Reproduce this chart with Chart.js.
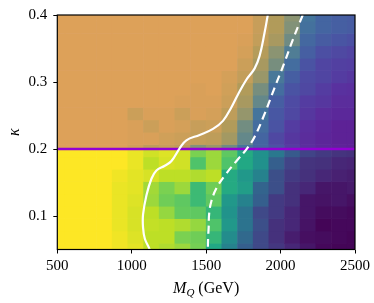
<!DOCTYPE html>
<html>
<head>
<meta charset="utf-8">
<script src="https://cdn.jsdelivr.net/npm/chart.js@4.4.1/dist/chart.umd.min.js"></script>
<style>
  html, body { margin: 0; padding: 0; background: #fff; }
  #wrap { width: 374px; height: 303px; }
</style>
</head>
<body>
<div id="wrap"><canvas id="chart" width="374" height="303"></canvas></div>
<script>
// grid centres (20 x 20 scan)
const massGeV = [500, 605.3, 710.5, 815.8, 921.1, 1026.3, 1131.6, 1236.8, 1342.1, 1447.4,
                 1552.6, 1657.9, 1763.2, 1868.4, 1973.7, 2078.9, 2184.2, 2289.5, 2394.7, 2500];
const kappaVals = [0.05, 0.0684, 0.0868, 0.1053, 0.1237, 0.1421, 0.1605, 0.1789, 0.1974, 0.2158,
                   0.2342, 0.2526, 0.2711, 0.2895, 0.3079, 0.3263, 0.3447, 0.3632, 0.3816, 0.4];

// colour value per cell, rows from kappa = 0.05 upwards (0 = dark, 1 = yellow)
const zRows = [
  [1,1,1,1,0.98,0.96,0.90,0.88,0.85,0.79,0.60,0.44,0.30,0.22,0.16,0.11,0.06,0.02,0.01,0.01],
  [1,1,1,1,0.98,0.95,0.90,0.90,0.80,0.78,0.66,0.48,0.34,0.22,0.14,0.08,0.04,0.03,0.02,0.01],
  [1,1,1,1,0.97,0.94,0.91,0.90,0.88,0.84,0.72,0.53,0.38,0.24,0.14,0.11,0.05,0.01,0.02,0.02],
  [1,1,1,1,0.97,0.94,0.90,0.84,0.76,0.75,0.66,0.51,0.38,0.22,0.17,0.11,0.06,0.03,0.03,0.02],
  [1,1,1,1,0.97,0.95,0.85,0.78,0.75,0.68,0.75,0.53,0.44,0.30,0.17,0.14,0.06,0.05,0.06,0.04],
  [1,1,1,1,0.97,0.96,0.86,0.80,0.85,0.68,0.78,0.61,0.55,0.32,0.24,0.14,0.11,0.06,0.06,0.07],
  [1,1,1,1,0.98,0.96,0.94,0.90,0.90,0.88,0.90,0.61,0.53,0.44,0.24,0.17,0.14,0.11,0.09,0.08],
  [1,1,1,1,1,0.97,0.90,0.94,0.93,0.72,0.85,0.72,0.60,0.50,0.30,0.20,0.15,0.14,0.11,0.10],
  [1,1,1,1,1,0.97,0.93,0.95,0.93,0.80,0.85,0.75,0.61,0.50,0.40,0.28,0.20,0.17,0.15,0.14],
  [1,1,1,1,1,0.99,0.99,0.97,0.96,0.94,0.93,0.87,0.72,0.50,0.33,0.24,0.19,0.16,0.14,0.14],
  [1,1,1,1,1,0.99,0.96,0.99,0.98,0.95,0.96,0.90,0.76,0.55,0.40,0.27,0.20,0.17,0.14,0.14],
  [1,1,1,1,1,0.96,0.99,0.99,0.96,0.99,0.98,0.93,0.84,0.60,0.42,0.33,0.24,0.19,0.17,0.17],
  [1,1,1,1,1,1,1,1,0.99,0.99,0.99,0.96,0.88,0.72,0.46,0.35,0.27,0.24,0.19,0.19],
  [1,1,1,1,1,1,1,1,1,0.99,1,0.97,0.90,0.77,0.55,0.40,0.33,0.27,0.21,0.20],
  [1,1,1,1,1,1,1,1,1,1,1,0.98,0.94,0.85,0.62,0.46,0.35,0.32,0.27,0.24],
  [1,1,1,1,1,1,1,1,1,1,1,1,0.96,0.88,0.77,0.55,0.40,0.32,0.29,0.28],
  [1,1,1,1,1,1,1,1,1,1,1,1,0.98,0.91,0.82,0.65,0.47,0.37,0.34,0.31],
  [1,1,1,1,1,1,1,1,1,1,1,1,0.99,0.94,0.88,0.75,0.52,0.45,0.41,0.38],
  [1,1,1,1,1,1,1,1,1,1,1,1,1,0.95,0.90,0.80,0.58,0.50,0.47,0.45],
  [1,1,1,1,1,1,1,1,1,1,1,1,1,0.95,0.90,0.82,0.60,0.50,0.47,0.45]
];

// contours
const solidM = [1914, 1892, 1859, 1825, 1769, 1713, 1669, 1613, 1546, 1456, 1367, 1322,
                1267, 1222, 1166, 1133, 1099, 1076, 1076, 1088, 1117, 1124];
const solidK = [0.400, 0.373, 0.339, 0.320, 0.303, 0.281, 0.262, 0.242, 0.230, 0.221, 0.213, 0.201,
                0.182, 0.175, 0.168, 0.156, 0.131, 0.102, 0.083, 0.066, 0.052, 0.045];
const dashedM = [2149, 2082, 2026, 1959, 1892, 1825, 1769, 1711, 1624, 1568, 1535, 1520, 1517, 1513, 1511];
const dashedK = [0.400, 0.363, 0.329, 0.291, 0.252, 0.218, 0.199, 0.184, 0.160, 0.141, 0.122, 0.103, 0.083, 0.067, 0.045];

const kappaCut = 0.2;
const xTicks = [500, 1000, 1500, 2000, 2500];
const yTicks = [0.1, 0.2, 0.3, 0.4];

const viridis = [[68,1,84],[72,36,117],[65,68,135],[53,95,141],[42,120,142],[33,145,140],
                 [34,168,132],[68,191,112],[122,209,81],[189,223,38],[253,231,37]];
function cmap(v) {
    const t = Math.max(0, Math.min(1, v)) * 10;
    const i = Math.min(9, Math.floor(t));
    const f = t - i;
    const a = viridis[i], b = viridis[i + 1];
    return 'rgb(' + a.map((c, k) => Math.round(c + (b[k] - c) * f)).join(',') + ')';
}

function edges(arr) {
    return arr.map((v, i) => [
        i === 0 ? v : (arr[i - 1] + v) / 2,
        i === arr.length - 1 ? v : (v + arr[i + 1]) / 2
    ]);
}

const heatmap = {
    id: 'heatmap',
    beforeDatasetsDraw(chart) {
        const { ctx, scales: { x, y }, chartArea: ca } = chart;
        const xe = edges(massGeV), ye = edges(kappaVals);
        const ov = 0.3; // small overlap so seams stay faint
        ctx.save();
        ctx.beginPath();
        ctx.rect(ca.left, ca.top, ca.right - ca.left, ca.bottom - ca.top);
        ctx.clip();
        zRows.forEach((row, j) => {
            row.forEach((v, i) => {
                const x0 = x.getPixelForValue(xe[i][0]), x1 = x.getPixelForValue(xe[i][1]);
                const y0 = y.getPixelForValue(ye[j][1]), y1 = y.getPixelForValue(ye[j][0]);
                ctx.fillStyle = cmap(v);
                ctx.fillRect(x0 - ov, y0 - ov, x1 - x0 + 2 * ov, y1 - y0 + 2 * ov);
            });
        });
        // excluded region shading
        const yc = y.getPixelForValue(kappaCut);
        ctx.fillStyle = 'rgba(148,0,211,0.3)';
        ctx.fillRect(ca.left, ca.top, ca.right - ca.left, yc - ca.top);
        ctx.restore();
    },
    afterDraw(chart) {
        const { ctx, chartArea: ca } = chart;
        ctx.save();
        ctx.strokeStyle = '#000';
        ctx.lineWidth = 1.2;
        ctx.strokeRect(ca.left, ca.top, ca.right - ca.left, ca.bottom - ca.top);
        // axis titles
        ctx.fillStyle = '#000';
        ctx.textBaseline = 'alphabetic';
        const cx = (ca.left + ca.right) / 2;
        const parts = [
            { t: 'M', f: 'italic 16px "Liberation Serif"', dy: 0 },
            { t: 'Q', f: 'italic 11px "Liberation Serif"', dy: 3 },
            { t: ' (GeV)', f: '16px "Liberation Serif"', dy: 0 }
        ];
        let w = 0;
        parts.forEach(p => { ctx.font = p.f; p.w = ctx.measureText(p.t).width; w += p.w; });
        let px = cx - w / 2;
        parts.forEach(p => { ctx.font = p.f; ctx.fillText(p.t, px, 293 + p.dy); px += p.w; });
        ctx.translate(19, (ca.top + ca.bottom) / 2);
        ctx.rotate(-Math.PI / 2);
        ctx.font = 'italic 16px "Liberation Serif"';
        ctx.textAlign = 'center';
        ctx.fillText('\u03BA', 0, 0);
        ctx.restore();
    }
};

const toPts = (xs, ys) => xs.map((v, i) => ({ x: v, y: ys[i] }));

new Chart(document.getElementById('chart').getContext('2d'), {
    type: 'scatter',
    data: {
        datasets: [{
            data: toPts(solidM, solidK),
            showLine: true,
            borderColor: '#fff',
            borderWidth: 2.2,
            pointRadius: 0,
            tension: 0.4,
            clip: 0
        },
        {
            data: toPts(dashedM, dashedK),
            showLine: true,
            borderColor: '#fff',
            borderWidth: 2.2,
            borderDash: [8, 5],
            pointRadius: 0,
            tension: 0.4,
            clip: 0
        },
        {
            data: toPts([500, 2500], [kappaCut, kappaCut]),
            showLine: true,
            borderColor: 'rgb(148,0,211)',
            borderWidth: 2.5,
            pointRadius: 0,
            clip: 0
        }]
    },
    options: {
        responsive: false,
        devicePixelRatio: 1,
        animation: false,
        events: [],
        layout: { padding: { top: 8, right: 18, left: 0, bottom: 0 } },
        plugins: { legend: { display: false }, tooltip: { enabled: false } },
        scales: {
            x: {
                type: 'linear', min: 500, max: 2500,
                afterBuildTicks: s => { s.ticks = xTicks.map(v => ({ value: v })); },
                afterFit: s => { s.height = 53.5; },
                grid: { drawOnChartArea: false, drawTicks: true, tickLength: 4, tickColor: '#000', tickWidth: 1 },
                border: { display: false },
                ticks: {
                    color: '#000', padding: 4, maxRotation: 0,
                    font: { family: '"Liberation Serif"', size: 15 },
                    callback: v => String(v)
                }
            },
            y: {
                type: 'linear', min: 0.05, max: 0.4,
                afterBuildTicks: s => { s.ticks = yTicks.map(v => ({ value: v })); },
                afterFit: s => { s.width = 57.3; },
                grid: { drawOnChartArea: false, drawTicks: true, tickLength: 4, tickColor: '#000', tickWidth: 1 },
                border: { display: false },
                ticks: {
                    color: '#000', padding: 6,
                    font: { family: '"Liberation Serif"', size: 15 },
                    callback: v => v.toFixed(1)
                }
            }
        }
    },
    plugins: [heatmap]
});
</script>
</body>
</html>
